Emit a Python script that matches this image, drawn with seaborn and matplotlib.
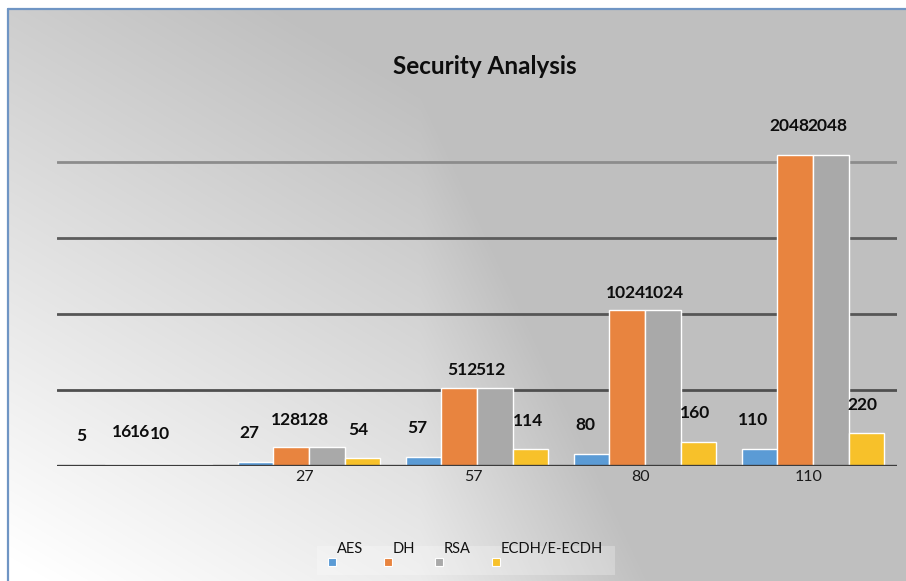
import numpy as np
import pandas as pd
import matplotlib
matplotlib.use("Agg")
import matplotlib.pyplot as plt
import seaborn as sns
from matplotlib.patches import Rectangle
from matplotlib.lines import Line2D
from matplotlib.transforms import ScaledTranslation

# ---- data -------------------------------------------------------------
categories = ["5", "27", "57", "80", "110"]          # AES key size per group
tick_labels = ["", "27", "57", "80", "110"]
series = ["AES", "DH", "RSA", "ECDH/E-ECDH"]
aes = [5, 27, 57, 80, 110]
dh = [16, 128, 512, 1024, 2048]
rsa = [16, 128, 512, 1024, 2048]
ecdh = [10, 54, 114, 160, 220]
palette = ["#5B9BD5", "#E8843F", "#A9A9A9", "#F7C12A"]

# label placement (pixels relative to the bar top)
aes_off = (-6, 29)
pair_dx = [-10, -9, -1, 0, -5]
pair_dy = [32, 27, 18, 17, 29]
ecdh_dx = [-35, -4, -3, -4, -4]
ecdh_dy = [30, 28, 28, 29, 28]

df = pd.DataFrame({
    "group": categories * 4,
    "algo": np.repeat(series, len(categories)),
    "value": aes + dh + rsa + ecdh,
})

sns.set_theme(style="white")
plt.rcParams["font.family"] = ["Lato", "DejaVu Sans"]

W, H = 906, 581
fig = plt.figure(figsize=(W / 100, H / 100), dpi=100)

# ---- gradient backdrop --------------------------------------------------
bg = fig.add_axes([0, 0, 1, 1], zorder=-10)
X, Y = np.meshgrid(np.arange(W), np.arange(H))
shade = 0.805 - 2.07e-4 * X + 3.54e-4 * Y - 5.5e-4 * np.clip(X - 420, 0, None)
shade = np.clip(shade, 0.75, 1.0)
shade[(X < 8) | (Y < 9)] = 1.0
bg.imshow(np.dstack([shade] * 3), extent=[0, W, H, 0], aspect="auto",
          interpolation="bilinear")
bg.plot([8, 8], [9, H], color="#6f95c4", lw=1.6)
bg.plot([8, W], [9, 9], color="#6f95c4", lw=1.6)
bg.set_xlim(0, W)
bg.set_ylim(H, 0)
bg.axis("off")

# ---- bars -----------------------------------------------------------------
ax = fig.add_axes([57 / W, 1 - 466 / H, 840 / W, (466 - 86) / H])
ax.patch.set_alpha(0)
sns.barplot(data=df, x="group", y="value", hue="algo", order=categories,
            hue_order=series, palette=palette, saturation=1, width=0.85,
            edgecolor="white", linewidth=1.0, legend=False, ax=ax, zorder=3)

ax.set_ylim(0, 2500)
ax.set_xlim(-0.5, len(categories) - 0.5)
grid_cols = {500: "#4f4f4f", 1000: "#565656", 1500: "#5c5c5c", 2000: "#8c8c8c"}
for v, c in grid_cols.items():
    ax.axhline(v, color=c, lw=2, zorder=1)
ax.axhline(0, color="#3c3c3c", lw=2.4, zorder=4)

for s in ax.spines.values():
    s.set_visible(False)
ax.set_yticks([])
ax.set_xlabel("")
ax.set_ylabel("")
ax.set_xticks(range(len(categories)), tick_labels)
ax.tick_params(axis="x", length=0, pad=3, labelsize=11.5, labelcolor="#1a1a1a")
shift = ScaledTranslation(-4 / 100, 0, fig.dpi_scale_trans)
for lbl in ax.get_xticklabels():
    lbl.set_transform(lbl.get_transform() + shift)

# ---- value labels -----------------------------------------------------------
lab = dict(textcoords="offset pixels", va="center", fontsize=12.5,
           fontweight="bold", color="#0d0d0d", zorder=6)
c_aes, c_dh, c_rsa, c_ecdh = ax.containers
for i in range(len(categories)):
    b = c_aes[i]
    ax.annotate(f"{aes[i]}", xy=(b.get_x() + b.get_width() / 2, aes[i]),
                xytext=aes_off, ha="center", **lab)
    b = c_dh[i]
    ax.annotate(f"{dh[i]}", xy=(b.get_x() + b.get_width(), dh[i]),
                xytext=(pair_dx[i] + 1, pair_dy[i]), ha="right", **lab)
    b = c_rsa[i]
    ax.annotate(f"{rsa[i]}", xy=(b.get_x(), rsa[i]),
                xytext=(pair_dx[i] - 1, pair_dy[i]), ha="left", **lab)
    b = c_ecdh[i]
    ax.annotate(f"{ecdh[i]}", xy=(b.get_x() + b.get_width() / 2, ecdh[i]),
                xytext=(ecdh_dx[i], ecdh_dy[i]), ha="center", **lab)

# ---- title ----------------------------------------------------------------
fig.text(485 / W, 1 - 66 / H, "Security Analysis", ha="center", va="center",
         fontsize=17.5, fontweight="bold", color="#0d0d0d")

# ---- legend -----------------------------------------------------------------
fig.patches.append(Rectangle((317 / W, 1 - 575 / H), 298 / W, 29 / H,
                             transform=fig.transFigure, facecolor="white",
                             edgecolor="none", alpha=0.25, zorder=1))
marker_x = [332, 388, 439, 496]
for name, col, mx in zip(series, palette, marker_x):
    fig.lines.append(Line2D([mx / W], [1 - 562 / H], marker="s", markersize=6,
                            markerfacecolor=col, markeredgecolor="white",
                            markeredgewidth=0.8, transform=fig.transFigure))
    fig.text((mx + 5) / W, 1 - 549 / H, name, ha="left", va="center",
             fontsize=10.5, color="#111111")

fig.savefig("out.png", dpi=100)
